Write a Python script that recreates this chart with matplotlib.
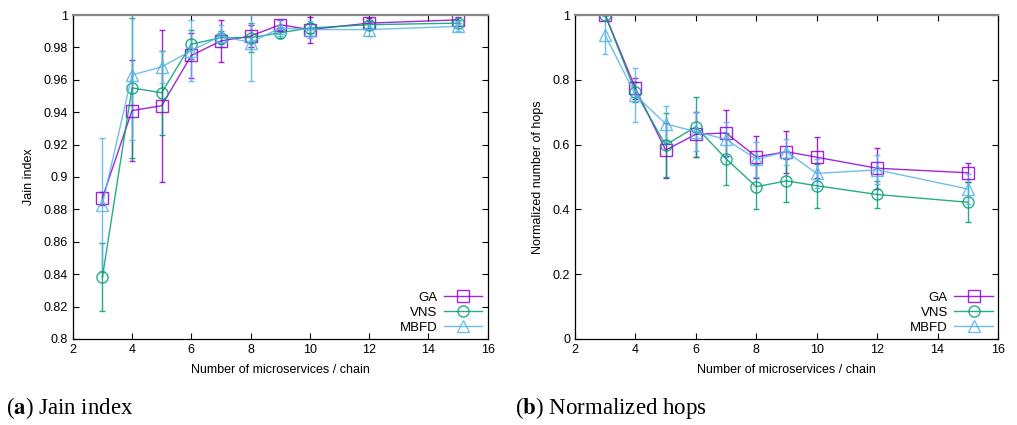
import numpy as np
import matplotlib.pyplot as plt
from matplotlib.lines import Line2D
from matplotlib.ticker import FuncFormatter

# chain sizes on the x axis
chains = [3, 4, 5, 6, 7, 8, 9, 10, 12, 15]
algos = ["GA", "VNS", "MBFD"]

# (a) Jain index, means and error bar half widths
jain_ga = [0.887, 0.941, 0.944, 0.975, 0.984, 0.987, 0.994, 0.991, 0.995, 0.997]
jain_ga_err = [0.004, 0.031, 0.047, 0.014, 0.013, 0.007, 0.003, 0.008, 0.003, 0.002]
jain_vns = [0.838, 0.955, 0.952, 0.982, 0.986, 0.986, 0.989, 0.992, 0.994, 0.995]
jain_vns_err = [0.021, 0.043, 0.026, 0.009, 0.004, 0.009, 0.003, 0.003, 0.002, 0.002]
jain_mbfd = [0.883, 0.963, 0.968, 0.978, 0.987, 0.983, 0.992, 0.991, 0.991, 0.993]
jain_mbfd_err = [0.041, 0.040, 0.010, 0.019, 0.007, 0.024, 0.005, 0.005, 0.004, 0.003]

# (b) normalized number of hops
hops_ga = [1.0, 0.774, 0.583, 0.632, 0.636, 0.562, 0.578, 0.561, 0.527, 0.513]
hops_ga_err = [0.0, 0.033, 0.085, 0.07, 0.07, 0.065, 0.065, 0.063, 0.064, 0.03]
hops_vns = [1.0, 0.762, 0.599, 0.655, 0.556, 0.47, 0.488, 0.473, 0.446, 0.422]
hops_vns_err = [0.0, 0.03, 0.1, 0.093, 0.08, 0.07, 0.066, 0.068, 0.043, 0.062]
hops_mbfd = [0.938, 0.753, 0.664, 0.64, 0.616, 0.555, 0.578, 0.511, 0.522, 0.463]
hops_mbfd_err = [0.059, 0.082, 0.054, 0.06, 0.053, 0.054, 0.04, 0.045, 0.045, 0.045]

colors = ["#9400d3", "#009e73", "#56b4e9"]
markers = ["s", "o", "^"]

plt.rcParams["font.family"] = ["Liberation Sans", "DejaVu Sans"]
plt.rcParams["mathtext.fontset"] = "stix"

fig = plt.figure(figsize=(10.17, 4.25), dpi=100)
ax1 = fig.add_axes([0.0715, 0.2024, 0.4081, 0.7623])
ax2 = fig.add_axes([0.5654, 0.2024, 0.4159, 0.7623])


def draw(ax, series, ylim, yticks, ylabel):
    handles = []
    for (vals, errs), name, c, m in zip(series, algos, colors, markers):
        ax.errorbar(chains, vals, yerr=errs, color=c, marker=m, markersize=8,
                    markerfacecolor="none", markeredgewidth=1.0, linewidth=1.0,
                    elinewidth=1.0, capsize=2.5, capthick=1.0, alpha=0.85)
        handles.append(Line2D([], [], color=c, marker=m, markersize=8,
                              markerfacecolor="none", linewidth=1.0, alpha=0.85, label=name))
    ax.set_xlim(2, 16)
    ax.set_ylim(*ylim)
    ax.set_xticks(range(2, 17, 2))
    ax.set_yticks(yticks)
    ax.yaxis.set_major_formatter(FuncFormatter(lambda v, p: f"{v:g}"))
    ax.tick_params(direction="in", top=True, right=True, labelsize=9, length=4, width=0.8)
    for s in ["left", "right", "bottom"]:
        ax.spines[s].set_linewidth(0.9)
    ax.spines["top"].set_color("#888888")
    ax.spines["top"].set_linewidth(1.6)
    ax.set_xlabel("Number of microservices / chain", fontsize=9, labelpad=6)
    ax.set_ylabel(ylabel, fontsize=9, labelpad=6)
    ax.legend(handles=handles, loc="lower right", frameon=False, markerfirst=False,
              fontsize=9.5, handlelength=2.9, labelspacing=0.2, handletextpad=0.5,
              borderaxespad=0.0)


draw(ax1, [(jain_ga, jain_ga_err), (jain_vns, jain_vns_err), (jain_mbfd, jain_mbfd_err)],
     (0.8, 1.0), np.arange(0.8, 1.001, 0.02), "Jain index")
draw(ax2, [(hops_ga, hops_ga_err), (hops_vns, hops_vns_err), (hops_mbfd, hops_mbfd_err)],
     (0.0, 1.0), np.arange(0, 1.001, 0.2), "Normalized number of hops")

cap_font = ["Liberation Serif", "DejaVu Serif"]
fig.text(0.006, 0.025, r"($\mathbf{a}$) Jain index", fontsize=16.5, family=cap_font)
fig.text(0.506, 0.025, r"($\mathbf{b}$) Normalized hops", fontsize=16.5, family=cap_font)

fig.savefig("out.png", dpi=100)
